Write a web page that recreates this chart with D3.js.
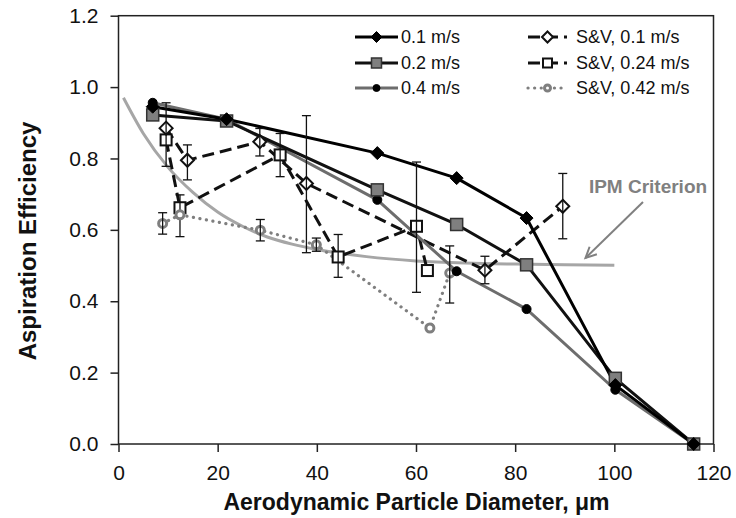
<!DOCTYPE html>
<html>
<head>
<meta charset="utf-8">
<script src="https://cdn.jsdelivr.net/npm/d3@7"></script>
<style>
  html, body { margin: 0; padding: 0; background: #fff; }
  svg { display: block; font-family: "Liberation Sans", Arial, sans-serif; }
</style>
</head>
<body>
<svg id="chart" width="736" height="518"></svg>
<script>
// ---------------- data ----------------
const xTicks = [0, 20, 40, 60, 80, 100, 120];
const yTicks = [0, 0.2, 0.4, 0.6, 0.8, 1.0, 1.2];

// model / measured series
const diam = [6.9, 21.8, 52.2, 68.2, 82.3, 100.2, 116];
const eff01 = [0.945, 0.91, 0.815, 0.745, 0.633, 0.165, 0.0];
const eff02 = [0.922, 0.905, 0.712, 0.615, 0.502, 0.184, 0.0];
const eff04 = [0.956, 0.91, 0.684, 0.484, 0.378, 0.152, 0.0];

// S&V 0.1 m/s
const sv01Diam = [9.6, 13.9, 28.5, 37.9, 73.9, 89.6];
const sv01Eff = [0.885, 0.795, 0.847, 0.73, 0.487, 0.666];
const sv01Lo = [0.778, 0.74, 0.807, 0.536, 0.449, 0.575];
const sv01Hi = [0.956, 0.838, 0.884, 0.92, 0.526, 0.758];

// S&V 0.24 m/s
const sv024Diam = [9.6, 12.4, 32.6, 44.3, 60.1, 62.3];
const sv024Eff = [0.852, 0.662, 0.81, 0.524, 0.61, 0.486];
const sv024Lo = [null, 0.581, 0.749, 0.467, 0.425, null];
const sv024Hi = [null, 0.698, 0.87, 0.587, 0.79, null];

// S&V 0.42 m/s
const sv042Diam = [8.9, 12.4, 28.6, 39.9, 62.8, 66.8];
const sv042Eff = [0.618, 0.642, 0.599, 0.558, 0.325, 0.479];
const sv042Lo = [0.588, null, 0.569, 0.54, null, 0.395];
const sv042Hi = [0.648, null, 0.629, 0.577, null, 0.555];

// IPM criterion curve
const ipmDiam = [1, 5, 10, 15, 20, 25, 30, 35, 40, 50, 60, 70, 80, 90, 100];
const ipmEff = [0.97, 0.87, 0.775, 0.705, 0.65, 0.61, 0.58, 0.56, 0.545, 0.525, 0.513, 0.507, 0.504, 0.502, 0.501];

const legendLabels = ["0.1 m/s", "0.2 m/s", "0.4 m/s", "S&V, 0.1 m/s", "S&V, 0.24 m/s", "S&V, 0.42 m/s"];
const xTitle = "Aerodynamic Particle Diameter, \u03bcm";
const yTitle = "Aspiration Efficiency";
const ipmLabel = "IPM Criterion";

// ---------------- drawing ----------------
const svg = d3.select("#chart");
const x = d3.scaleLinear().domain([0, 120]).range([118.5, 713.5]);
const y = d3.scaleLinear().domain([0, 1.2]).range([444, 15.7]);

const zip = (xs, ys) => xs.map((d, i) => [d, ys[i]]);

// plot box
svg.append("rect")
  .attr("x", x(0)).attr("y", y(1.2))
  .attr("width", x(120) - x(0)).attr("height", y(0) - y(1.2))
  .attr("fill", "none").attr("stroke", "#222").attr("stroke-width", 1.5);

// axes
const yAxis = svg.append("g").attr("transform", `translate(${x(0)},0)`)
  .call(d3.axisLeft(y).tickValues(yTicks).tickFormat(d3.format(".1f")).tickSize(8).tickPadding(12));
const xAxis = svg.append("g").attr("transform", `translate(0,${y(0)})`)
  .call(d3.axisBottom(x).tickValues(xTicks).tickFormat(d3.format("d")).tickSize(8).tickPadding(13));
[xAxis, yAxis].forEach(g => {
  g.select(".domain").remove();
  g.selectAll(".tick line").attr("stroke", "#222").attr("stroke-width", 1.5);
  g.selectAll("text").attr("font-size", 21).attr("fill", "#111")
    .attr("font-family", "'Liberation Sans', Arial, sans-serif");
});

// axis titles
svg.append("text").attr("x", 416.5).attr("y", 510).attr("text-anchor", "middle")
  .attr("font-size", 23).attr("font-weight", "bold").attr("fill", "#111").text(xTitle);
svg.append("text").attr("transform", "translate(36,241) rotate(-90)").attr("text-anchor", "middle")
  .attr("font-size", 24).attr("font-weight", "bold").attr("fill", "#111").text(yTitle);

// IPM curve
const lineGen = d3.line().x(d => x(d[0])).y(d => y(d[1]));
svg.append("path").datum(zip(ipmDiam, ipmEff))
  .attr("d", d3.line().x(d => x(d[0])).y(d => y(d[1])).curve(d3.curveMonotoneX))
  .attr("fill", "none").attr("stroke", "#a6a6a6").attr("stroke-width", 3);

// series definitions
const series = [
  { xs: sv024Diam, ys: sv024Eff, lo: sv024Lo, hi: sv024Hi, stroke: "#111", width: 3, dash: "12,6", cap: "butt",
    marker: "square", size: 11, fill: "#fff", mstroke: "#111", mwidth: 2 },
  { xs: sv01Diam, ys: sv01Eff, lo: sv01Lo, hi: sv01Hi, stroke: "#111", width: 3, dash: "12,6", cap: "butt",
    marker: "diamond", size: 13, fill: "#fff", mstroke: "#111", mwidth: 2 },
  { xs: sv042Diam, ys: sv042Eff, lo: sv042Lo, hi: sv042Hi, stroke: "#7f7f7f", width: 3.2, dash: "0.1,6.5", cap: "round",
    marker: "circle", size: 11, fill: "#fff", mstroke: "#7f7f7f", mwidth: 3 },
  { xs: diam, ys: eff04, stroke: "#6d6d6d", width: 3, dash: null, cap: "butt",
    marker: "circle", size: 10, fill: "#000", mstroke: "#000", mwidth: 1 },
  { xs: diam, ys: eff02, stroke: "#111", width: 3, dash: null, cap: "butt",
    marker: "square", size: 12, fill: "#7f7f7f", mstroke: "#333", mwidth: 1.5 },
  { xs: diam, ys: eff01, stroke: "#000", width: 3, dash: null, cap: "butt",
    marker: "diamond", size: 13, fill: "#000", mstroke: "#000", mwidth: 1 }
];

function drawMarker(g, type, cx, cy, s, fill, stroke, sw) {
  if (type === "circle") {
    g.append("circle").attr("cx", cx).attr("cy", cy).attr("r", s / 2 - sw / 2)
      .attr("fill", fill).attr("stroke", stroke).attr("stroke-width", sw);
  } else if (type === "square") {
    g.append("rect").attr("x", cx - s / 2).attr("y", cy - s / 2).attr("width", s).attr("height", s)
      .attr("fill", fill).attr("stroke", stroke).attr("stroke-width", sw);
  } else {
    const h = s / 2;
    g.append("path").attr("d", `M${cx},${cy - h}L${cx + h},${cy}L${cx},${cy + h}L${cx - h},${cy}Z`)
      .attr("fill", fill).attr("stroke", stroke).attr("stroke-width", sw);
  }
}

// lines
series.forEach(s => {
  svg.append("path").datum(zip(s.xs, s.ys))
    .attr("d", lineGen).attr("fill", "none")
    .attr("stroke", s.stroke).attr("stroke-width", s.width)
    .attr("stroke-dasharray", s.dash).attr("stroke-linecap", s.cap)
    .attr("stroke-linejoin", "round");
});
// markers and error bars
series.forEach(s => {
  const g = svg.append("g");
  s.xs.forEach((d, i) => drawMarker(g, s.marker, x(d), y(s.ys[i]), s.size, s.fill, s.mstroke, s.mwidth));
  if (s.lo) {
    s.xs.forEach((d, i) => {
      if (s.lo[i] == null) return;
      const cx = x(d);
      g.append("line").attr("x1", cx).attr("x2", cx).attr("y1", y(s.lo[i])).attr("y2", y(s.hi[i]))
        .attr("stroke", "#111").attr("stroke-width", 1.3);
      [s.lo[i], s.hi[i]].forEach(v => g.append("line")
        .attr("x1", cx - 4.5).attr("x2", cx + 4.5).attr("y1", y(v)).attr("y2", y(v))
        .attr("stroke", "#111").attr("stroke-width", 1.3));
    });
  }
});

// IPM label and arrow
svg.append("text").attr("x", 648).attr("y", 193).attr("text-anchor", "middle")
  .attr("font-size", 19).attr("font-weight", "bold").attr("fill", "#808080").text(ipmLabel);
const ax1 = 643, ay1 = 202, ax2 = 585.5, ay2 = 258;
svg.append("line").attr("x1", ax1).attr("y1", ay1).attr("x2", ax2).attr("y2", ay2)
  .attr("stroke", "#808080").attr("stroke-width", 2);
const ang = Math.atan2(ay2 - ay1, ax2 - ax1);
const hl = 12, spread = 0.45;
svg.append("path")
  .attr("d", `M${ax2 - hl * Math.cos(ang - spread)},${ay2 - hl * Math.sin(ang - spread)}L${ax2},${ay2}L${ax2 - hl * Math.cos(ang + spread)},${ay2 - hl * Math.sin(ang + spread)}`)
  .attr("fill", "none").attr("stroke", "#808080").attr("stroke-width", 2);

// legend
const legendOrder = [5, 4, 3, 1, 0, 2]; // series index for each legend label
const legRows = [37, 63, 88];
legendLabels.forEach((lab, i) => {
  const s = series[legendOrder[i]];
  const col = i < 3 ? 0 : 1;
  const ry = legRows[i % 3];
  const x1 = col === 0 ? 355 : 528, x2 = col === 0 ? 398 : 567;
  const tx = col === 0 ? 401 : 576;
  const g = svg.append("g");
  g.append("line").attr("x1", x1).attr("x2", x2).attr("y1", ry).attr("y2", ry)
    .attr("stroke", s.stroke).attr("stroke-width", s.width)
    .attr("stroke-dasharray", s.dash).attr("stroke-linecap", s.cap);
  drawMarker(g, s.marker, (x1 + x2) / 2, ry, s.size - 2, s.fill, s.mstroke, s.mwidth);
  g.append("text").attr("x", tx).attr("y", ry).attr("dy", "0.35em")
    .attr("font-size", 18).attr("fill", "#111").text(lab);
});
</script>
</body>
</html>
